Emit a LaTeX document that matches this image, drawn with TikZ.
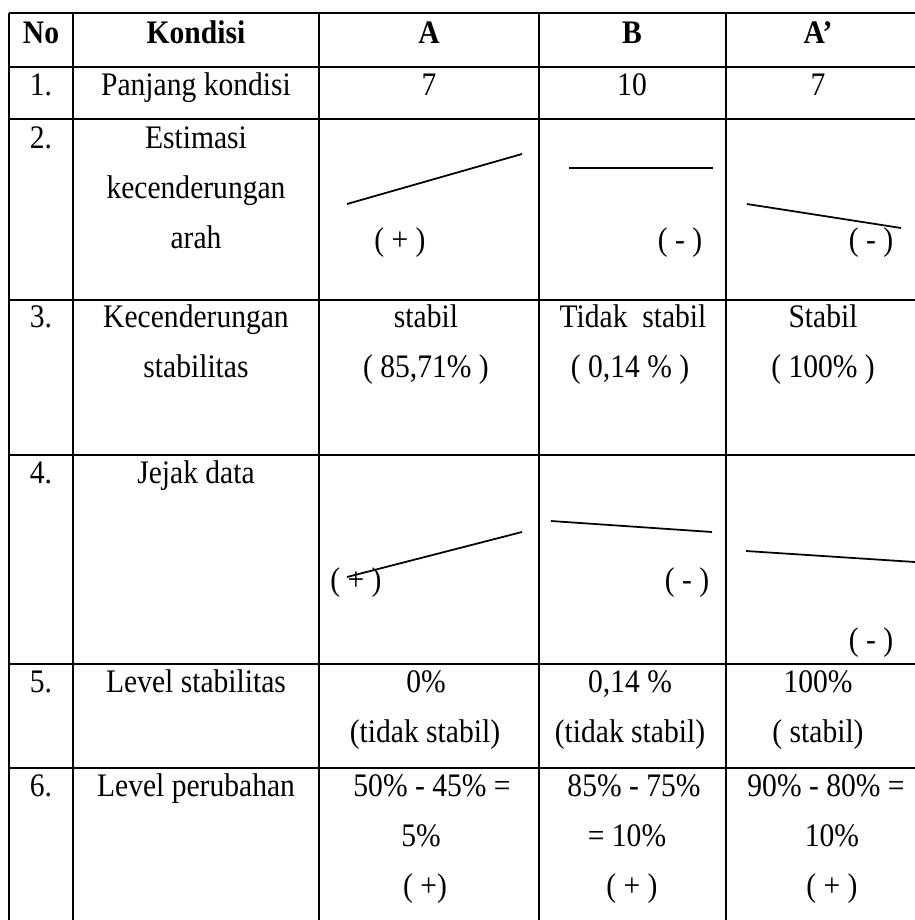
\documentclass[tikz,border=0pt]{standalone}
\usepackage{fontspec}
\setmainfont{Liberation Serif}[FakeStretch=0.9]

\begin{document}
\begin{tikzpicture}[x=0.02cm,y=-0.02cm,font=\fontsize{18.7}{22}\selectfont]
\tikzstyle{cell}=[anchor=base, inner sep=0pt]
\tikzstyle{head}=[cell, font=\fontsize{18.7}{22}\selectfont\bfseries]
\tikzstyle{grid}=[line width=0.045cm]
\tikzstyle{trend}=[line width=0.035cm]

\useasboundingbox (0,0) rectangle (915,920);

% grid lines
\foreach \y in {13,67,119,300,455,664,768}
  \draw[grid] (9,\y) -- (915,\y);
\foreach \x in {9,73,319,539,726}
  \draw[grid] (\x,13) -- (\x,920);

% header
\node[head] (no)      at (41,43)  {No};
\node[head] (kondisi) at (196,43) {Kondisi};
\node[head] (hA)      at (429,43) {A};
\node[head] (hB)      at (632,43) {B};
\node[head] (hAp)     at (818,43) {A’};

% row 1
\node[cell] (n1)  at (41,95)  {1.};
\node[cell] (k1)  at (196,95) {Panjang kondisi};
\node[cell] (a1)  at (429,95) {7};
\node[cell] (b1)  at (632,95) {10};
\node[cell] (ap1) at (818,95) {7};

% row 2
\node[cell] (n2)  at (41,148)  {2.};
\node[cell] (k2a) at (196,148) {Estimasi};
\node[cell] (k2b) at (196,198) {kecenderungan};
\node[cell] (k2c) at (196,248) {arah};
\draw[trend] (347,204) -- (522,154);
\draw[trend] (569,168) -- (713,168);
\draw[trend] (747,204) -- (901,228);
\node[cell] (a2)  at (400,250) {( + )};
\node[cell] (b2)  at (680,250) {( - )};
\node[cell] (ap2) at (871,250) {( - )};

% row 3
\node[cell] (n3)   at (41,327)  {3.};
\node[cell] (k3a)  at (196,327) {Kecenderungan};
\node[cell] (k3b)  at (196,377) {stabilitas};
\node[cell] (a3a)  at (426,327) {stabil};
\node[cell] (a3b)  at (426,377) {( 85,71\% )};
\node[cell] (b3a)  at (633,327) {Tidak\ \ stabil};
\node[cell] (b3b)  at (630,377) {( 0,14 \% )};
\node[cell] (ap3a) at (823,327) {Stabil};
\node[cell] (ap3b) at (823,377) {( 100\% )};

% row 4
\node[cell] (n4) at (41,483)  {4.};
\node[cell] (k4) at (196,483) {Jejak data};
\draw[trend] (347,577) -- (522,532);
\draw[trend] (551,521) -- (712,532);
\draw[trend] (746,551) -- (915,562);
\node[cell] (a4)  at (356,590) {( + )};
\node[cell] (b4)  at (687,590) {( - )};
\node[cell] (ap4) at (871,650) {( - )};

% row 5
\node[cell] (n5)   at (41,692)  {5.};
\node[cell] (k5)   at (196,692) {Level stabilitas};
\node[cell] (a5a)  at (426,692) {0\%};
\node[cell] (a5b)  at (425,742) {(tidak stabil)};
\node[cell] (b5a)  at (630,692) {0,14 \%};
\node[cell] (b5b)  at (630,742) {(tidak stabil)};
\node[cell] (ap5a) at (818,692) {100\%};
\node[cell] (ap5b) at (818,742) {( stabil)};

% row 6
\node[cell] (n6)   at (41,796)  {6.};
\node[cell] (k6)   at (196,796) {Level perubahan};
\node[cell] (a6a)  at (432,796) {50\% - 45\% =};
\node[cell] (a6b)  at (421,846) {5\%};
\node[cell] (a6c)  at (425,896) {( +)};
\node[cell] (b6a)  at (634,796) {85\% - 75\%};
\node[cell] (b6b)  at (627,846) {= 10\%};
\node[cell] (b6c)  at (632,896) {( + )};
\node[cell] (ap6a) at (826,796) {90\% - 80\% =};
\node[cell] (ap6b) at (832,846) {10\%};
\node[cell] (ap6c) at (832,896) {( + )};
\end{tikzpicture}
\end{document}
